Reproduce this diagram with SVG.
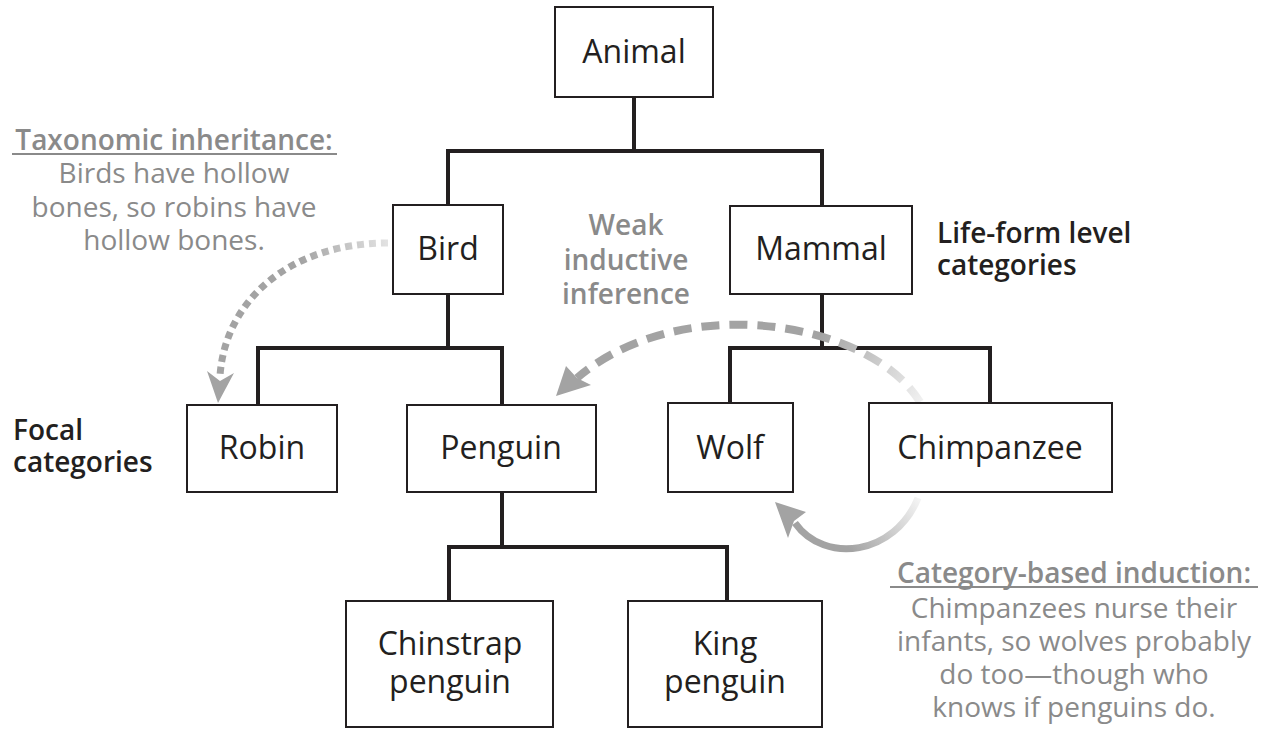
<svg xmlns="http://www.w3.org/2000/svg" width="1273" height="732" viewBox="0 0 1273 732">
<style>
.box{fill:#fff;stroke:#231f20;stroke-width:2}
.tree{fill:none;stroke:#231f20;stroke-width:4;stroke-linejoin:miter;stroke-linecap:square}
.lbl{font-family:"Open Sans","Noto Sans","Liberation Sans",sans-serif;font-size:32px;fill:#231f20;text-anchor:middle}
.blk{font-family:"Open Sans","Noto Sans","Liberation Sans",sans-serif;font-size:28px;font-weight:600;fill:#231f20}
.gb{font-family:"Open Sans","Noto Sans","Liberation Sans",sans-serif;font-size:28px;font-weight:600;fill:#8a8a8a;text-anchor:middle}
.gr{font-family:"Open Sans","Noto Sans","Liberation Sans",sans-serif;font-size:28px;fill:#8a8a8a;text-anchor:middle}
.ul{stroke:#8a8a8a;stroke-width:2}
.head{fill:#a3a3a3}
</style>
<defs>
<linearGradient id="g1" gradientUnits="userSpaceOnUse" x1="390" y1="243" x2="300" y2="260">
<stop offset="0" stop-color="#e4e4e4"/><stop offset="1" stop-color="#a3a3a3"/>
</linearGradient>
<linearGradient id="g2" gradientUnits="userSpaceOnUse" x1="920" y1="402" x2="820" y2="335">
<stop offset="0" stop-color="#f0f0f0"/><stop offset="1" stop-color="#a3a3a3"/>
</linearGradient>
<linearGradient id="g3" gradientUnits="userSpaceOnUse" x1="918" y1="498" x2="850" y2="550">
<stop offset="0" stop-color="#f4f4f4"/><stop offset="1" stop-color="#a3a3a3"/>
</linearGradient>
</defs>

<g id="connectors">
<path class="tree" d="M634 97 V151 M448 205 V151 H822 V206"/>
<path class="tree" d="M448 294 V348 M258 405 V348 H502 V405"/>
<path class="tree" d="M822 294 V348 M730 403 V348 H990 V403"/>
<path class="tree" d="M502 492 V547 M449 601 V547 H727 V601"/>
<g id="arrow-taxonomic">
<path d="M388 243 C290 243 225 300 220 376" fill="none" stroke="url(#g1)" stroke-width="7" stroke-dasharray="7 5"/>
<polygon class="head" points="218,403 207,371 220,381 234,373"/>
</g>
<g id="arrow-weak">
<path d="M920 402 C870 320 680 290 577 378" fill="none" stroke="url(#g2)" stroke-width="8" stroke-dasharray="18 10"/>
<polygon class="head" points="556,396 566,366 577,378 591,385"/>
</g>
<g id="arrow-category">
<path d="M918 498 C895 555 825 565 795 523" fill="none" stroke="url(#g3)" stroke-width="7"/>
<polygon class="head" points="775,502 806,512 794,521 788,538"/>
</g>
</g>

<g id="animal"><rect class="box" x="555" y="7" width="158" height="90"/><text class="lbl" x="634" y="63">Animal</text></g>
<g id="bird"><rect class="box" x="393" y="205" width="110" height="89"/><text class="lbl" x="448" y="260">Bird</text></g>
<g id="mammal"><rect class="box" x="730" y="206" width="182" height="88"/><text class="lbl" x="821" y="260">Mammal</text></g>
<g id="robin"><rect class="box" x="187" y="405" width="150" height="87"/><text class="lbl" x="262" y="459">Robin</text></g>
<g id="penguin"><rect class="box" x="407" y="405" width="189" height="87"/><text class="lbl" x="501" y="459">Penguin</text></g>
<g id="wolf"><rect class="box" x="668" y="403" width="125" height="89"/><text class="lbl" x="730" y="459">Wolf</text></g>
<g id="chimpanzee"><rect class="box" x="869" y="403" width="243" height="89"/><text class="lbl" x="990" y="459">Chimpanzee</text></g>
<g id="chinstrap"><rect class="box" x="346" y="601" width="207" height="126"/><text class="lbl" x="450" y="655">Chinstrap</text><text class="lbl" x="450" y="693">penguin</text></g>
<g id="king"><rect class="box" x="628" y="601" width="194" height="126"/><text class="lbl" x="725" y="655">King</text><text class="lbl" x="725" y="693">penguin</text></g>

<g id="life-form-label"><text class="blk" x="937" y="243">Life-form level</text><text class="blk" x="937" y="275">categories</text></g>
<g id="focal-label"><text class="blk" x="13" y="440">Focal</text><text class="blk" x="13" y="472">categories</text></g>

<g id="taxonomic-note">
<text class="gb" x="174" y="150">Taxonomic inheritance:</text>
<line class="ul" x1="12" y1="154" x2="337" y2="154"/>
<text class="gr" x="174" y="183">Birds have hollow</text>
<text class="gr" x="174" y="217">bones, so robins have</text>
<text class="gr" x="174" y="250">hollow bones.</text>
</g>
<g id="weak-note">
<text class="gb" x="626" y="235">Weak</text>
<text class="gb" x="626" y="270">inductive</text>
<text class="gb" x="626" y="304">inference</text>
</g>
<g id="category-note">
<text class="gb" x="1074" y="583">Category-based induction:</text>
<line class="ul" x1="890" y1="587" x2="1258" y2="587"/>
<text class="gr" x="1074" y="618">Chimpanzees nurse their</text>
<text class="gr" x="1074" y="651">infants, so wolves probably</text>
<text class="gr" x="1074" y="684">do too—though who</text>
<text class="gr" x="1074" y="717">knows if penguins do.</text>
</g>
</svg>
